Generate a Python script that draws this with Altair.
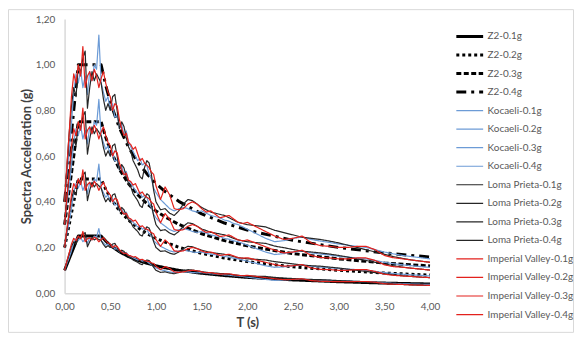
import altair as alt
import pandas as pd

# ---- periods (s) ----
T_REC = [0, 0.025, 0.05, 0.075, 0.1, 0.125, 0.15, 0.175, 0.2, 0.225, 0.25, 0.275, 0.3,
         0.325, 0.35, 0.375, 0.4, 0.425, 0.45, 0.475, 0.5, 0.525, 0.55, 0.575, 0.6, 0.625,
         0.65, 0.675, 0.7, 0.725, 0.75, 0.775, 0.8, 0.825, 0.85, 0.875, 0.9, 0.925, 0.95,
         0.975, 1.0,
         1.05, 1.1, 1.15, 1.2, 1.25, 1.3, 1.35, 1.4, 1.45, 1.5, 1.55, 1.6, 1.65, 1.7, 1.75,
         1.8, 1.85, 1.9, 1.95, 2.0,
         2.1, 2.2, 2.3, 2.4, 2.5, 2.6, 2.7, 2.8, 2.9, 3.0, 3.1, 3.2, 3.3, 3.4, 3.5, 3.6,
         3.7, 3.8, 3.9, 4.0]
T_Z2 = [0, 0.15, 0.4, 0.45, 0.5, 0.6, 0.7, 0.8, 0.9, 1.0, 1.1, 1.25, 1.5, 1.75, 2.0,
        2.5, 3.0, 3.5, 4.0]

# ---- design spectra (g) ----
Z2_01 = [0.10, 0.25, 0.25, 0.228, 0.209, 0.181, 0.16, 0.144, 0.131, 0.12, 0.111, 0.10,
         0.087, 0.077, 0.069, 0.058, 0.05, 0.044, 0.04]
Z2_02 = [0.20, 0.50, 0.50, 0.455, 0.418, 0.361, 0.32, 0.287, 0.261, 0.24, 0.223, 0.201,
         0.174, 0.154, 0.138, 0.115, 0.10, 0.088, 0.079]
Z2_03 = [0.30, 0.75, 0.75, 0.683, 0.627, 0.542, 0.479, 0.431, 0.392, 0.36, 0.334, 0.301,
         0.26, 0.23, 0.207, 0.173, 0.15, 0.132, 0.119]
Z2_04 = [0.40, 1.00, 1.00, 0.91, 0.836, 0.723, 0.639, 0.574, 0.523, 0.48, 0.445, 0.402,
         0.347, 0.307, 0.276, 0.231, 0.20, 0.176, 0.158]

# ---- Kocaeli (g) ----
KOC_01 = [0.10, 0.13, 0.155, 0.185, 0.22, 0.24, 0.23, 0.245, 0.225, 0.238, 0.218, 0.243,
          0.233, 0.25, 0.245, 0.283, 0.23, 0.22, 0.21, 0.215, 0.20, 0.208, 0.193, 0.195,
          0.18, 0.185, 0.173, 0.178, 0.165, 0.16, 0.155, 0.15, 0.145, 0.148, 0.14, 0.143,
          0.14, 0.13, 0.125, 0.115, 0.11,
          0.103, 0.098, 0.093, 0.09, 0.093, 0.094, 0.093, 0.09, 0.089, 0.09, 0.088, 0.085,
          0.084, 0.083, 0.08, 0.079, 0.076, 0.075, 0.073, 0.07,
          0.065, 0.06, 0.056, 0.058, 0.06, 0.061, 0.059, 0.057, 0.056, 0.054, 0.053, 0.051,
          0.05, 0.048, 0.045, 0.043, 0.041, 0.04, 0.039, 0.038]
KOC_02 = [0.20, 0.26, 0.31, 0.37, 0.44, 0.48, 0.46, 0.49, 0.45, 0.475, 0.435, 0.485, 0.465,
          0.50, 0.49, 0.565, 0.46, 0.44, 0.42, 0.43, 0.40, 0.415, 0.385, 0.39, 0.36, 0.37,
          0.345, 0.355, 0.33, 0.32, 0.31, 0.30, 0.29, 0.295, 0.28, 0.285, 0.28, 0.26, 0.25,
          0.23, 0.22,
          0.205, 0.195, 0.185, 0.18, 0.185, 0.188, 0.185, 0.18, 0.178, 0.18, 0.175, 0.17,
          0.168, 0.165, 0.16, 0.158, 0.153, 0.15, 0.145, 0.14,
          0.13, 0.12, 0.113, 0.115, 0.12, 0.123, 0.118, 0.114, 0.111, 0.108, 0.105, 0.103,
          0.10, 0.095, 0.09, 0.086, 0.083, 0.08, 0.078, 0.075]
KOC_03 = [0.30, 0.39, 0.465, 0.555, 0.66, 0.72, 0.69, 0.735, 0.675, 0.713, 0.653, 0.728,
          0.698, 0.75, 0.735, 0.848, 0.69, 0.66, 0.63, 0.645, 0.60, 0.623, 0.578, 0.585,
          0.54, 0.555, 0.518, 0.533, 0.495, 0.48, 0.465, 0.45, 0.435, 0.443, 0.42, 0.428,
          0.42, 0.39, 0.375, 0.345, 0.33,
          0.308, 0.293, 0.278, 0.27, 0.278, 0.281, 0.278, 0.27, 0.266, 0.27, 0.263, 0.255,
          0.251, 0.248, 0.24, 0.236, 0.229, 0.225, 0.218, 0.21,
          0.195, 0.18, 0.169, 0.173, 0.18, 0.184, 0.176, 0.171, 0.167, 0.161, 0.158, 0.154,
          0.15, 0.143, 0.135, 0.129, 0.124, 0.12, 0.116, 0.113]
KOC_04 = [0.40, 0.52, 0.62, 0.74, 0.88, 0.96, 0.92, 0.98, 0.90, 0.95, 0.87, 0.97, 0.93,
          1.00, 0.98, 1.13, 0.92, 0.88, 0.84, 0.86, 0.80, 0.83, 0.77, 0.78, 0.72, 0.74,
          0.69, 0.71, 0.66, 0.64, 0.62, 0.60, 0.58, 0.59, 0.56, 0.57, 0.56, 0.52, 0.50,
          0.46, 0.44,
          0.41, 0.39, 0.37, 0.36, 0.37, 0.375, 0.37, 0.36, 0.355, 0.36, 0.35, 0.34, 0.335,
          0.33, 0.32, 0.315, 0.305, 0.30, 0.29, 0.28,
          0.26, 0.24, 0.225, 0.23, 0.24, 0.245, 0.235, 0.228, 0.222, 0.215, 0.21, 0.205,
          0.20, 0.19, 0.18, 0.172, 0.165, 0.16, 0.155, 0.15]

# ---- Loma Prieta (g) ----
LOMA_01 = [0.10, 0.138, 0.175, 0.205, 0.225, 0.215, 0.25, 0.24, 0.258, 0.265, 0.203, 0.225,
           0.243, 0.233, 0.24, 0.235, 0.23, 0.213, 0.20, 0.208, 0.20, 0.215, 0.218, 0.20,
           0.18, 0.188, 0.183, 0.17, 0.16, 0.155, 0.145, 0.14, 0.135, 0.128, 0.125, 0.138,
           0.145, 0.143, 0.13, 0.113, 0.10,
           0.091, 0.093, 0.088, 0.085, 0.09, 0.098, 0.103, 0.101, 0.098, 0.094, 0.091, 0.089,
           0.088, 0.086, 0.085, 0.083, 0.08, 0.078, 0.076, 0.075,
           0.074, 0.073, 0.069, 0.066, 0.064, 0.061, 0.06, 0.059, 0.057, 0.055, 0.053, 0.05,
           0.048, 0.045, 0.043, 0.04, 0.038, 0.036, 0.035, 0.034]
LOMA_02 = [0.20, 0.275, 0.35, 0.41, 0.45, 0.43, 0.50, 0.48, 0.515, 0.53, 0.405, 0.45, 0.485,
           0.465, 0.48, 0.47, 0.46, 0.425, 0.40, 0.415, 0.40, 0.43, 0.435, 0.40, 0.36, 0.375,
           0.365, 0.34, 0.32, 0.31, 0.29, 0.28, 0.27, 0.255, 0.25, 0.275, 0.29, 0.285, 0.26,
           0.225, 0.20,
           0.183, 0.185, 0.175, 0.17, 0.18, 0.195, 0.205, 0.203, 0.195, 0.188, 0.183, 0.178,
           0.175, 0.173, 0.17, 0.165, 0.16, 0.155, 0.153, 0.15,
           0.148, 0.145, 0.138, 0.133, 0.128, 0.123, 0.12, 0.118, 0.114, 0.11, 0.105, 0.10,
           0.095, 0.09, 0.085, 0.08, 0.076, 0.073, 0.07, 0.068]
LOMA_03 = [0.30, 0.413, 0.525, 0.615, 0.675, 0.645, 0.75, 0.72, 0.773, 0.795, 0.608, 0.675,
           0.728, 0.698, 0.72, 0.705, 0.69, 0.638, 0.60, 0.623, 0.60, 0.645, 0.653, 0.60,
           0.54, 0.563, 0.548, 0.51, 0.48, 0.465, 0.435, 0.42, 0.405, 0.383, 0.375, 0.413,
           0.435, 0.428, 0.39, 0.338, 0.30,
           0.274, 0.278, 0.263, 0.255, 0.27, 0.293, 0.308, 0.304, 0.293, 0.281, 0.274, 0.266,
           0.263, 0.259, 0.255, 0.248, 0.24, 0.233, 0.229, 0.225,
           0.221, 0.218, 0.206, 0.199, 0.191, 0.184, 0.18, 0.176, 0.171, 0.165, 0.158, 0.15,
           0.143, 0.135, 0.128, 0.12, 0.114, 0.109, 0.105, 0.101]
LOMA_04 = [0.40, 0.55, 0.70, 0.82, 0.90, 0.86, 1.00, 0.96, 1.03, 1.06, 0.81, 0.90, 0.97,
           0.93, 0.96, 0.94, 0.92, 0.85, 0.80, 0.83, 0.80, 0.86, 0.87, 0.80, 0.72, 0.75,
           0.73, 0.68, 0.64, 0.62, 0.58, 0.56, 0.54, 0.51, 0.50, 0.55, 0.58, 0.57, 0.52,
           0.45, 0.40,
           0.365, 0.37, 0.35, 0.34, 0.36, 0.39, 0.41, 0.405, 0.39, 0.375, 0.365, 0.355, 0.35,
           0.345, 0.34, 0.33, 0.32, 0.31, 0.305, 0.30,
           0.295, 0.29, 0.275, 0.265, 0.255, 0.245, 0.24, 0.235, 0.228, 0.22, 0.21, 0.20,
           0.19, 0.18, 0.17, 0.16, 0.152, 0.145, 0.14, 0.135]

# ---- Imperial Valley (g) ----
IMP_01 = [0.10, 0.14, 0.175, 0.215, 0.24, 0.23, 0.25, 0.238, 0.27, 0.225, 0.238, 0.243,
          0.233, 0.245, 0.238, 0.225, 0.235, 0.243, 0.23, 0.22, 0.215, 0.20, 0.208, 0.205,
          0.19, 0.18, 0.173, 0.175, 0.165, 0.163, 0.158, 0.16, 0.153, 0.145, 0.148, 0.143,
          0.14, 0.138, 0.133, 0.13, 0.118,
          0.103, 0.116, 0.108, 0.093, 0.091, 0.093, 0.098, 0.10, 0.098, 0.093, 0.089, 0.09,
          0.086, 0.083, 0.084, 0.085, 0.081, 0.078, 0.076, 0.078,
          0.073, 0.068, 0.063, 0.059, 0.06, 0.063, 0.055, 0.052, 0.051, 0.05, 0.05, 0.051,
          0.051, 0.048, 0.041, 0.039, 0.038, 0.036, 0.035, 0.034]
IMP_02 = [0.20, 0.28, 0.35, 0.43, 0.48, 0.46, 0.50, 0.475, 0.54, 0.45, 0.475, 0.485, 0.465,
          0.49, 0.475, 0.45, 0.47, 0.485, 0.46, 0.44, 0.43, 0.40, 0.415, 0.41, 0.38, 0.36,
          0.345, 0.35, 0.33, 0.325, 0.315, 0.32, 0.305, 0.29, 0.295, 0.285, 0.28, 0.275,
          0.265, 0.26, 0.235,
          0.205, 0.233, 0.215, 0.185, 0.183, 0.185, 0.195, 0.20, 0.195, 0.185, 0.178, 0.18,
          0.173, 0.165, 0.168, 0.17, 0.163, 0.155, 0.153, 0.155,
          0.145, 0.135, 0.125, 0.118, 0.12, 0.125, 0.11, 0.104, 0.103, 0.10, 0.10, 0.103,
          0.103, 0.095, 0.083, 0.078, 0.075, 0.073, 0.07, 0.068]
IMP_03 = [0.30, 0.42, 0.525, 0.645, 0.72, 0.69, 0.75, 0.713, 0.81, 0.675, 0.713, 0.728,
          0.698, 0.735, 0.713, 0.675, 0.705, 0.728, 0.69, 0.66, 0.645, 0.60, 0.623, 0.615,
          0.57, 0.54, 0.518, 0.525, 0.495, 0.488, 0.473, 0.48, 0.458, 0.435, 0.443, 0.428,
          0.42, 0.413, 0.398, 0.39, 0.353,
          0.308, 0.349, 0.323, 0.278, 0.274, 0.278, 0.293, 0.30, 0.293, 0.278, 0.266, 0.27,
          0.259, 0.248, 0.251, 0.255, 0.244, 0.233, 0.229, 0.233,
          0.218, 0.203, 0.188, 0.176, 0.18, 0.188, 0.165, 0.156, 0.154, 0.15, 0.15, 0.154,
          0.154, 0.143, 0.124, 0.116, 0.113, 0.109, 0.105, 0.101]
IMP_04 = [0.40, 0.56, 0.70, 0.86, 0.96, 0.92, 1.00, 0.95, 1.08, 0.90, 0.95, 0.97, 0.93,
          0.98, 0.95, 0.90, 0.94, 0.97, 0.92, 0.88, 0.86, 0.80, 0.83, 0.82, 0.76, 0.72,
          0.69, 0.70, 0.66, 0.65, 0.63, 0.64, 0.61, 0.58, 0.59, 0.57, 0.56, 0.55, 0.53,
          0.52, 0.47,
          0.41, 0.465, 0.43, 0.37, 0.365, 0.37, 0.39, 0.40, 0.39, 0.37, 0.355, 0.36, 0.345,
          0.33, 0.335, 0.34, 0.325, 0.31, 0.305, 0.31,
          0.29, 0.27, 0.25, 0.235, 0.24, 0.25, 0.22, 0.208, 0.205, 0.20, 0.20, 0.205, 0.205,
          0.19, 0.165, 0.155, 0.15, 0.145, 0.14, 0.135]

SERIES = [
    ("Z2-0.1g", T_Z2, Z2_01), ("Z2-0.2g", T_Z2, Z2_02),
    ("Z2-0.3g", T_Z2, Z2_03), ("Z2-0.4g", T_Z2, Z2_04),
    ("Kocaeli-0.1g", T_REC, KOC_01), ("Kocaeli-0.2g", T_REC, KOC_02),
    ("Kocaeli-0.3g", T_REC, KOC_03), ("Kocaeli-0.4g", T_REC, KOC_04),
    ("Loma Prieta-0.1g", T_REC, LOMA_01), ("Loma Prieta-0.2g", T_REC, LOMA_02),
    ("Loma Prieta-0.3g", T_REC, LOMA_03), ("Loma Prieta-0.4g", T_REC, LOMA_04),
    ("Imperial Valley-0.1g", T_REC, IMP_01), ("Imperial Valley-0.2g", T_REC, IMP_02),
    ("Imperial Valley-0.3g", T_REC, IMP_03), ("Imperial Valley-0.4g", T_REC, IMP_04),
]
GROUPS = ["Z2", "Kocaeli", "Loma Prieta", "Imperial Valley"]
NAMES = [s[0] for s in SERIES]

COLORS = ["#000000"] * 4 + ["#6C9BD6"] * 4 + ["#262626"] * 4 + ["#E3211C"] * 4
DASHES = [[1, 0], [3, 3], [5, 2.5], [10, 5, 3, 5]] + [[1, 0]] * 12
WIDTHS = [3, 3, 3, 3] + [1.2] * 12

rows = []
for name, ts, vs in SERIES:
    grp = name.rsplit("-", 1)[0]
    for t, v in zip(ts, vs):
        rows.append({"series": name, "group": grp, "T": t, "SA": v})
df = pd.DataFrame(rows)

FONT = "Lato"
LABEL_EXPR = "replace(format(datum.value, '.2f'), '.', ',')"

legend = alt.Legend(
    title=None, orient="none", legendX=393, legendY=11, padding=0,
    symbolType="stroke", symbolSize=729, clipHeight=13, rowPadding=5.67,
    labelFont=FONT, labelFontSize=10, labelColor="#595959", labelOffset=3,
    labelLimit=200,
)

x_axis = alt.Axis(
    values=[0, 0.5, 1, 1.5, 2, 2.5, 3, 3.5, 4], labelExpr=LABEL_EXPR,
    labelFont=FONT, labelFontSize=10, labelColor="#595959", labelPadding=8,
    labelFlush=False, labelOverlap=False, ticks=False, tickSize=0, grid=False,
    domainColor="#d9d9d9", domainWidth=1.5,
    title="T (s)", titleFont=FONT, titleFontSize=13, titleFontWeight="bold",
    titleColor="#404040", titlePadding=6,
)
y_axis = alt.Axis(
    values=[0, 0.2, 0.4, 0.6, 0.8, 1.0, 1.2], labelExpr=LABEL_EXPR,
    labelFont=FONT, labelFontSize=10, labelColor="#595959", labelPadding=10,
    labelFlush=False, labelOverlap=False, ticks=False, tickSize=0, grid=False,
    domainColor="#d9d9d9", domainWidth=1.5,
    title="Spectra Acceleration (g)", titleFont=FONT, titleFontSize=13,
    titleFontWeight="bold", titleColor="#404040", titlePadding=2,
)

enc = dict(
    x=alt.X("T:Q", scale=alt.Scale(domain=[0, 4], nice=False, zero=False), axis=x_axis),
    y=alt.Y("SA:Q", scale=alt.Scale(domain=[0, 1.2], nice=False), axis=y_axis),
    color=alt.Color("series:N", scale=alt.Scale(domain=NAMES, range=COLORS), legend=legend),
    strokeDash=alt.StrokeDash("series:N", scale=alt.Scale(domain=NAMES, range=DASHES), legend=legend),
    strokeWidth=alt.StrokeWidth("series:N", scale=alt.Scale(type="ordinal", domain=NAMES, range=WIDTHS), legend=None),
)

base = alt.Chart(df)
line_layers = [
    base.transform_filter(alt.datum.group == g)
        .mark_line(strokeCap="butt", strokeJoin="round")
        .encode(**enc)
    for g in GROUPS
]

W, H = 570, 326
PL, PT = 57, 10
PW, PH = 368, 276

border = alt.Chart(alt.Data(values=[{"a": 1}])).mark_rect(
    filled=False, stroke="#d9d9d9", strokeWidth=1
).encode(
    x=alt.value(-PL + 0.5), x2=alt.value(W - PL - 0.5),
    y=alt.value(-PT + 0.5), y2=alt.value(H - PT - 0.5),
)

chart = alt.layer(border, *line_layers).properties(
    width=PW, height=PH, autosize="none",
    padding={"left": PL, "top": PT, "right": W - PL - PW, "bottom": H - PT - PH},
    background="white",
).configure_view(strokeWidth=0)

chart.save("out.html", embed_options={"renderer": "svg", "actions": False})
